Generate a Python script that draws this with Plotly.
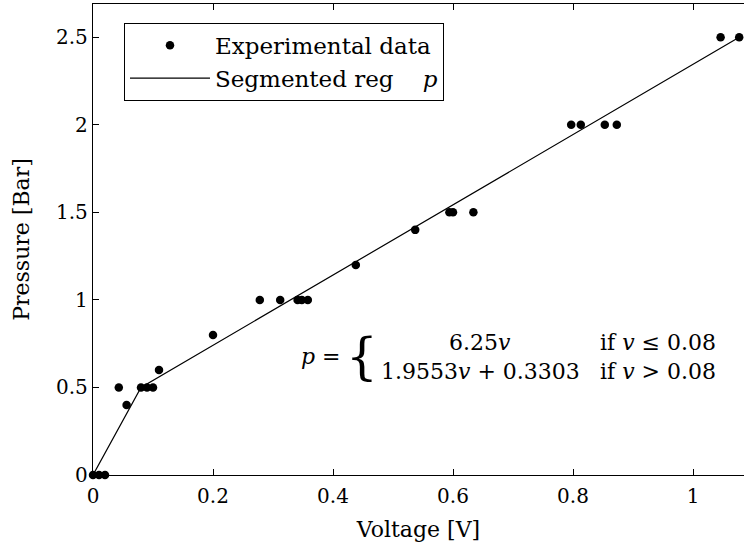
import plotly.graph_objects as go

volt = [0.0, 0.01, 0.02, 0.043, 0.056, 0.08, 0.09, 0.10, 0.11, 0.20,
        0.278, 0.312, 0.341, 0.348, 0.358, 0.438, 0.537,
        0.594, 0.60, 0.634, 0.797, 0.813, 0.853, 0.873, 1.046, 1.077]
press = [0.0, 0.0, 0.0, 0.5, 0.4, 0.5, 0.5, 0.5, 0.6, 0.8,
         1.0, 1.0, 1.0, 1.0, 1.0, 1.2, 1.4,
         1.5, 1.5, 1.5, 2.0, 2.0, 2.0, 2.0, 2.5, 2.5]

# Segmented regression line (breakpoints as drawn)
fit_v = [0.0, 0.08, 1.077]
fit_p = [0.0, 0.5, 2.5]

x_ticks = [0, 0.2, 0.4, 0.6, 0.8, 1]
x_ticklabels = ["0", "0.2", "0.4", "0.6", "0.8", "1"]
y_ticks = [0, 0.5, 1, 1.5, 2, 2.5]
y_ticklabels = ["0", "0.5", "1", "1.5", "2", "2.5"]

FONT = "DejaVu Serif"
FS = 20
TITLE_FS = 22
LEG_FS = 23
EQ_FS = 22

fig = go.Figure()
fig.add_trace(go.Scatter(x=volt, y=press, mode="markers", name="Experimental data",
                         marker=dict(color="black", size=8.5), cliponaxis=False))
fig.add_trace(go.Scatter(x=fit_v, y=fit_p, mode="lines",
                         name="Segmented reg&#160;&#160;&#160;&#160;<i>p</i>",
                         line=dict(color="black", width=1.2)))

fig.update_layout(
    width=744, height=553,
    margin=dict(l=93, r=0, t=4, b=78),
    paper_bgcolor="white", plot_bgcolor="white",
    font=dict(family=FONT, size=FS, color="black"),
    showlegend=True,
    legend=dict(x=0.0476, y=0.96, xanchor="left", yanchor="top",
                bordercolor="black", borderwidth=1, bgcolor="white",
                font=dict(family=FONT, size=LEG_FS), itemwidth=80,
                tracegroupgap=0),
    xaxis=dict(range=[0, 1.085], tickvals=x_ticks, ticktext=x_ticklabels,
               ticks="inside", ticklen=6, tickwidth=1, tickcolor="black",
               showline=True, linecolor="black", linewidth=1.3, mirror="ticks",
               showgrid=False, zeroline=False, ticklabelstandoff=3,
               title=dict(text="Voltage [V]", standoff=14,
                          font=dict(family=FONT, size=TITLE_FS))),
    yaxis=dict(range=[0, 2.69], tickvals=y_ticks, ticktext=y_ticklabels,
               ticks="inside", ticklen=6, tickwidth=1, tickcolor="black",
               showline=True, linecolor="black", linewidth=1.3, mirror=False,
               showgrid=False, zeroline=False,
               title=dict(text="Pressure [Bar]", standoff=20,
                          font=dict(family=FONT, size=TITLE_FS))),
)

# Piecewise equation annotation (paper coords of the plot area)
eq_y1 = (475 - 342) / 471
eq_y2 = (475 - 371) / 471
fig.add_annotation(xref="paper", yref="paper", x=(343 - 93) / 651, y=(eq_y1 + eq_y2) / 2,
                   xanchor="right", yanchor="middle", showarrow=False,
                   text="<i>p</i> =", font=dict(family=FONT, size=EQ_FS))
fig.add_annotation(xref="paper", yref="paper", x=(344 - 93) / 651, y=(eq_y1 + eq_y2) / 2,
                   xanchor="left", yanchor="middle", showarrow=False,
                   text="{", font=dict(family=FONT, size=50))
fig.add_annotation(xref="paper", yref="paper", x=(480 - 93) / 651, y=eq_y1,
                   xanchor="center", yanchor="middle", showarrow=False,
                   text="6.25<i>v</i>", font=dict(family=FONT, size=EQ_FS))
fig.add_annotation(xref="paper", yref="paper", x=(480 - 93) / 651, y=eq_y2,
                   xanchor="center", yanchor="middle", showarrow=False,
                   text="1.9553<i>v</i> + 0.3303", font=dict(family=FONT, size=EQ_FS))
fig.add_annotation(xref="paper", yref="paper", x=(598 - 93) / 651, y=eq_y1,
                   xanchor="left", yanchor="middle", showarrow=False,
                   text="if <i>v</i> ≤ 0.08", font=dict(family=FONT, size=EQ_FS))
fig.add_annotation(xref="paper", yref="paper", x=(598 - 93) / 651, y=eq_y2,
                   xanchor="left", yanchor="middle", showarrow=False,
                   text="if <i>v</i> > 0.08", font=dict(family=FONT, size=EQ_FS))

fig.write_html("out.html")
